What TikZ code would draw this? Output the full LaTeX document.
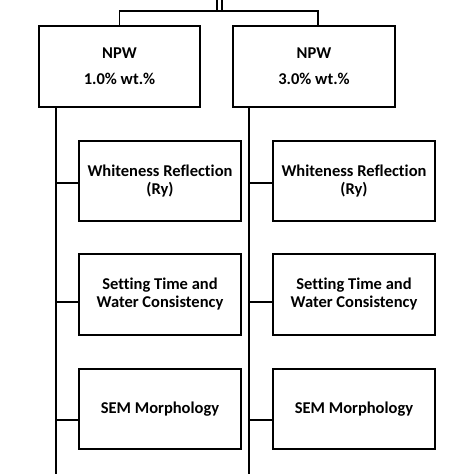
\documentclass[tikz,border=0pt]{standalone}
\usepackage{fontspec}
\setmainfont[Ligatures=NoCommon,RawFeature=-liga]{Carlito}
\begin{document}
\begin{tikzpicture}[x=1pt,y=-1pt,
  ln/.style={line width=1.4pt, line cap=rect},
  box/.style={draw, line width=1.4pt, rectangle, inner sep=0pt, align=center,
    font=\bfseries\fontsize{16.5}{18}\selectfont},
  topbox/.style={box, minimum width=161pt, minimum height=81pt},
  subbox/.style={box, minimum width=162pt, minimum height=80pt}]
\useasboundingbox (0,0) rectangle (474,474);
% top level boxes
\node[topbox] (b1) at (119.5,66.5) {NPW\\[8pt]1.0\% wt.\%};
\node[topbox, minimum width=162pt] (b2) at (314,66.5) {NPW\\[8pt]3.0\% wt.\%};
% sub boxes left
\node[subbox] (w1) at (160,181) {Whiteness Reflection\\(Ry)};
\node[subbox, minimum height=81pt] (s1) at (160,294.5) {Setting Time and\\Water Consistency};
\node[subbox] (m1) at (160,409) {SEM Morphology};
% sub boxes right
\node[subbox] (w2) at (354,181) {Whiteness Reflection\\(Ry)};
\node[subbox, minimum height=81pt] (s2) at (354,294.5) {Setting Time and\\Water Consistency};
\node[subbox] (m2) at (354,409) {SEM Morphology};
% top connectors
\coordinate (d1) at (217,0);
\coordinate (d2) at (222,0);
\coordinate (h) at (219.5,11);
\draw[ln] (d1) -- (d1 |- h);
\draw[ln] (d2) -- (d2 |- h);
\draw[ln] (b1.north) -- (b1.north |- h) -- ([xshift=4pt]b2.north |- h) -- ([xshift=4pt]b2.north);
% trunks
\coordinate (e1) at (56,474);
\coordinate (e2) at (249,474);
\draw[ln] (b1.south -| e1) -- (e1);
\draw[ln] (b2.south -| e2) -- (e2);
% branches
\draw[ln] ([yshift=-2pt]w1.west) -- ++(-23,0);
\draw[ln] ([yshift=-7.5pt]s1.west) -- ++(-23,0);
\draw[ln] ([yshift=-11pt]m1.west) -- ++(-23,0);
\draw[ln] ([yshift=-2pt]w2.west) -- ++(-24,0);
\draw[ln] ([yshift=-7.5pt]s2.west) -- ++(-24,0);
\draw[ln] ([yshift=-11pt]m2.west) -- ++(-24,0);
\end{tikzpicture}
\end{document}
